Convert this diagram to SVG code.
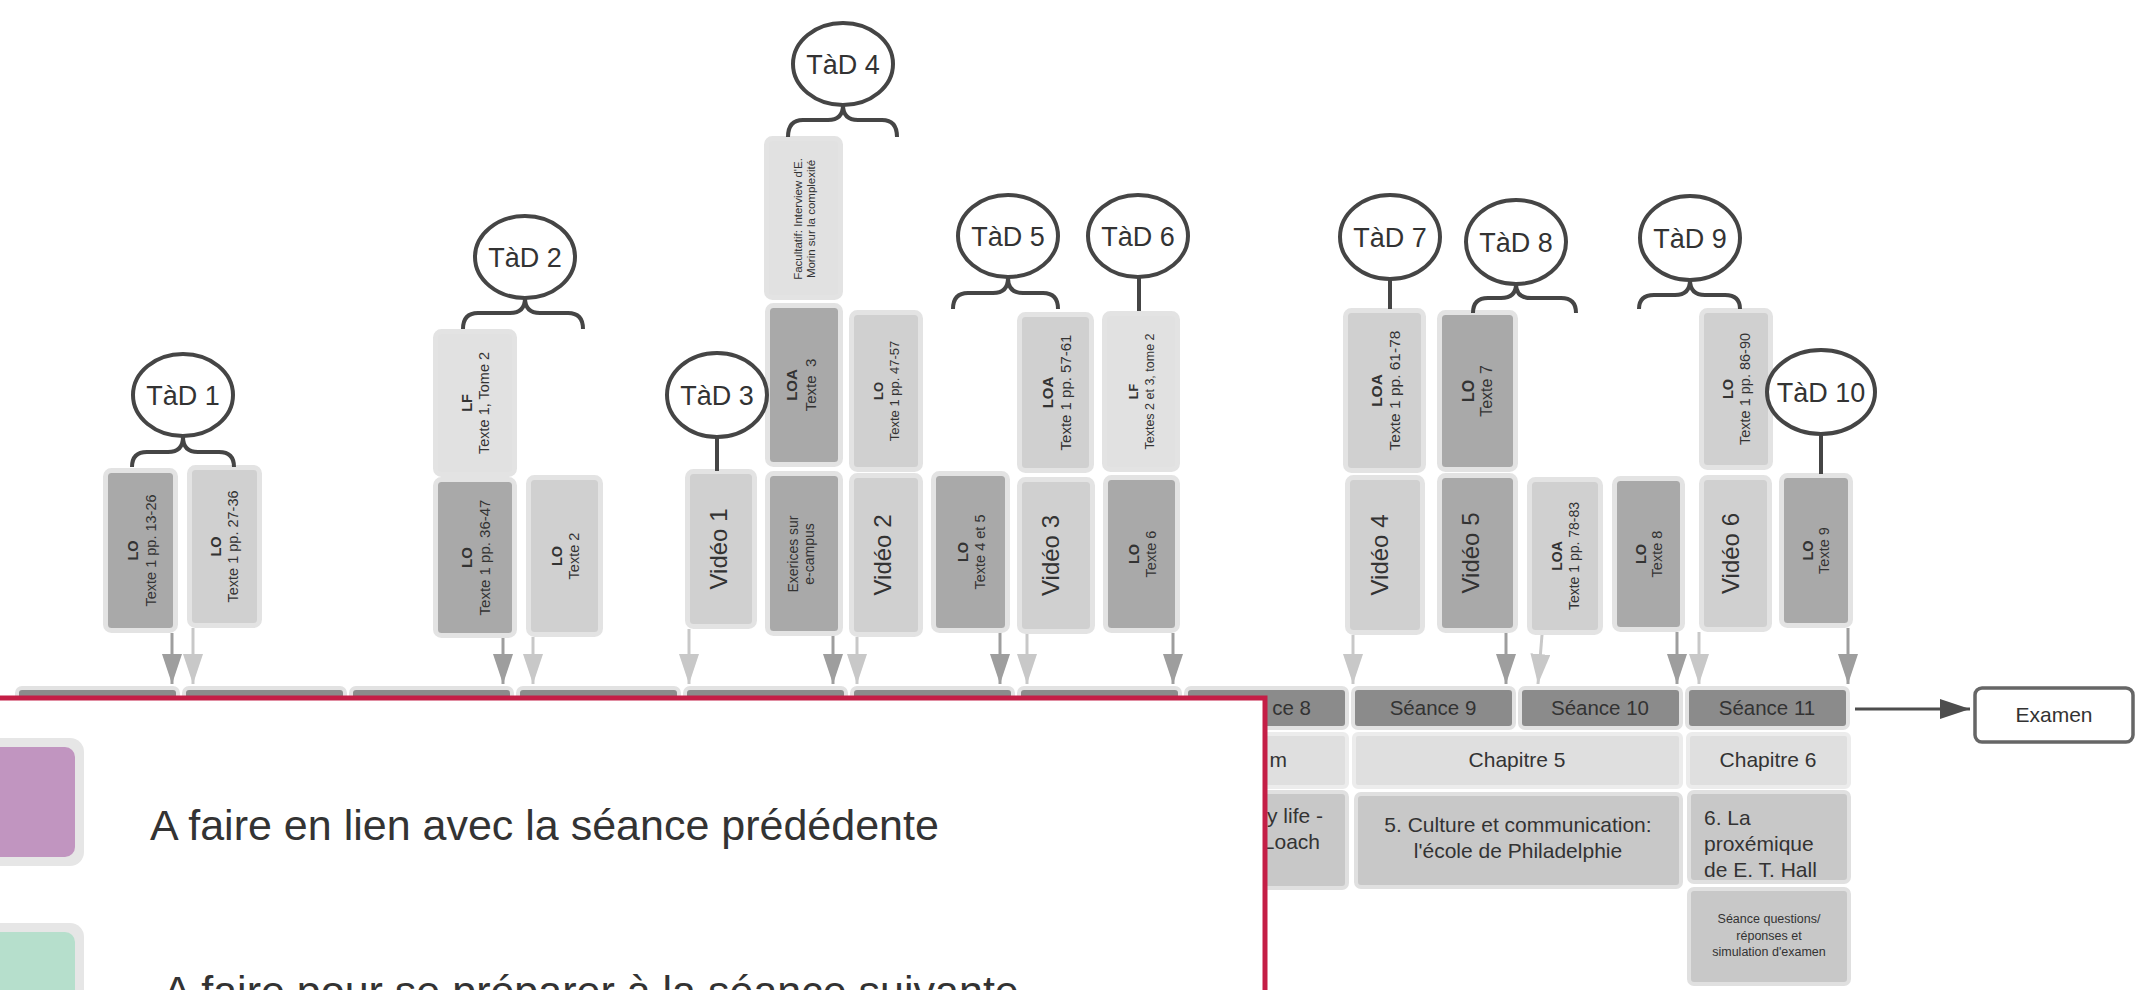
<svg xmlns="http://www.w3.org/2000/svg" width="2147" height="990" viewBox="0 0 2147 990">
<defs>
<style>
.t{font-family:"Liberation Sans",Arial,sans-serif;fill:#333}
.b{font-weight:bold}
.bx{stroke:#e3e3e3;stroke-width:5}
.dk{fill:#a9a9a9}
.lt{fill:#d0d0d0}
.vl{fill:#e1e1e1}
.tad{fill:#fff;stroke:#454545;stroke-width:4}
.br{fill:none;stroke:#454545;stroke-width:4}
.ad{stroke:#9e9e9e;stroke-width:3;fill:none}
.al{stroke:#c8c8c8;stroke-width:3;fill:none}
.sc{fill:#8b8b8b;stroke:#e2e2e2;stroke-width:4}
.ch{fill:#dfdfdf;stroke:#ececec;stroke-width:4}
.de{fill:#c8c8c8;stroke:#e0e0e0;stroke-width:4}
</style>
<marker id="mDk" markerUnits="userSpaceOnUse" viewBox="0 0 30 20" refX="30" refY="10" markerWidth="30" markerHeight="20" orient="auto"><path d="M0,0L30,10L0,20z" fill="#9e9e9e"/></marker>
<marker id="mLt" markerUnits="userSpaceOnUse" viewBox="0 0 30 20" refX="30" refY="10" markerWidth="30" markerHeight="20" orient="auto"><path d="M0,0L30,10L0,20z" fill="#c8c8c8"/></marker>
<marker id="mEx" markerUnits="userSpaceOnUse" viewBox="0 0 30 20" refX="30" refY="10" markerWidth="30" markerHeight="20" orient="auto"><path d="M0,0L30,10L0,20z" fill="#4d4d4d"/></marker>
</defs>
<rect width="2147" height="990" fill="#fff"/>

<!-- Séance row -->
<g id="seances">
<rect class="sc" x="17" y="688" width="161" height="40" rx="5"/>
<rect class="sc" x="184" y="688" width="161" height="40" rx="5"/>
<rect class="sc" x="351" y="688" width="161" height="40" rx="5"/>
<rect class="sc" x="518" y="688" width="161" height="40" rx="5"/>
<rect class="sc" x="685" y="688" width="161" height="40" rx="5"/>
<rect class="sc" x="852" y="688" width="161" height="40" rx="5"/>
<rect class="sc" x="1019" y="688" width="161" height="40" rx="5"/>
<rect class="sc" x="1186" y="688" width="161" height="40" rx="5"/>
<text class="t" x="1311" y="715" font-size="20.5" text-anchor="end">ce 8</text>
<rect class="sc" x="1353" y="688" width="161" height="40" rx="5"/>
<text class="t" x="1433" y="715" font-size="20.5" text-anchor="middle">Séance 9</text>
<rect class="sc" x="1520" y="688" width="161" height="40" rx="5"/>
<text class="t" x="1600" y="715" font-size="20.5" text-anchor="middle">Séance 10</text>
<rect class="sc" x="1687" y="688" width="161" height="40" rx="5"/>
<text class="t" x="1767" y="715" font-size="20.5" text-anchor="middle">Séance 11</text>
</g>

<g id="chapitres">
<rect class="ch" x="1186" y="734" width="161" height="53" rx="4"/>
<text class="t" x="1287" y="767" font-size="21" text-anchor="end">m</text>
<rect class="ch" x="1354" y="734" width="327" height="53" rx="4"/>
<text class="t" x="1517" y="767" font-size="21" text-anchor="middle">Chapitre 5</text>
<rect class="ch" x="1688" y="734" width="161" height="53" rx="4"/>
<text class="t" x="1768" y="767" font-size="21" text-anchor="middle">Chapitre 6</text>
</g>

<g id="descriptions">
<rect class="de" x="1186" y="792" width="161" height="96" rx="5"/>
<text class="t" x="1323" y="823" font-size="21" text-anchor="end">y life -</text>
<text class="t" x="1320" y="849" font-size="21" text-anchor="end">Loach</text>
<rect class="de" x="1356" y="794" width="325" height="93" rx="5"/>
<text class="t" x="1518" y="832" font-size="21" text-anchor="middle">5. Culture et communication:</text>
<text class="t" x="1518" y="858" font-size="21" text-anchor="middle">l'école de Philadelphie</text>
<rect class="de" x="1689" y="792" width="160" height="90" rx="5"/>
<text class="t" x="1704" y="825" font-size="21">6. La</text>
<text class="t" x="1704" y="851" font-size="21">proxémique</text>
<text class="t" x="1704" y="877" font-size="21">de E. T. Hall</text>
<rect class="de" x="1689" y="889" width="160" height="95" rx="5"/>
<text class="t" x="1769" y="923" font-size="12.5" text-anchor="middle">Séance questions/</text>
<text class="t" x="1769" y="940" font-size="12.5" text-anchor="middle">réponses et</text>
<text class="t" x="1769" y="956" font-size="12.5" text-anchor="middle">simulation d'examen</text>
</g>

<g id="examen">
<rect x="1975" y="688" width="158" height="54" rx="7" fill="#fff" stroke="#666" stroke-width="3.5"/>
<text class="t" x="2054" y="722" font-size="21" text-anchor="middle">Examen</text>
</g>

<!-- Resource boxes -->
<g id="n1"><rect class="bx dk" x="105.5" y="470.5" width="70" height="160" rx="6"/>
<text class="t" font-size="14.5" text-anchor="middle" transform="translate(140.5,550.5) rotate(-90)"><tspan class="b" x="0" y="-3">LO</tspan><tspan x="0" y="15">Texte 1 pp. 13-26</tspan></text></g>
<g id="n2"><rect class="bx lt" x="189.5" y="467.5" width="70" height="158" rx="6"/>
<text class="t" font-size="14.5" text-anchor="middle" transform="translate(224.5,546.5) rotate(-90)"><tspan class="b" x="0" y="-4">LO</tspan><tspan x="0" y="13">Texte 1 pp. 27-36</tspan></text></g>
<g id="n3"><rect class="bx vl" x="435.5" y="331.5" width="79" height="143" rx="6"/>
<text class="t" font-size="14.5" text-anchor="middle" transform="translate(475,403) rotate(-90)"><tspan class="b" x="0" y="-3">LF</tspan><tspan x="0" y="14">Texte 1, Tome 2</tspan></text></g>
<g id="n4"><rect class="bx dk" x="435.5" y="479.5" width="79" height="156" rx="6"/>
<text class="t" font-size="15" text-anchor="middle" transform="translate(475,557.5) rotate(-90)"><tspan class="b" x="0" y="-3">LO</tspan><tspan x="0" y="15">Texte 1 pp. 36-47</tspan></text></g>
<g id="n5"><rect class="bx lt" x="528.5" y="477.5" width="72" height="157" rx="6"/>
<text class="t" font-size="14.5" text-anchor="middle" transform="translate(564.5,556) rotate(-90)"><tspan class="b" x="0" y="-3">LO</tspan><tspan x="0" y="14">Texte 2</tspan></text></g>
<g id="n6"><rect class="bx lt" x="687.5" y="471.5" width="67" height="155" rx="6"/>
<text class="t" font-size="24" text-anchor="middle" transform="translate(721,549) rotate(-90)" x="0" y="6">Vidéo 1</text></g>
<g id="n7"><rect class="bx vl" x="766.5" y="138.5" width="74" height="159" rx="6"/>
<text class="t" font-size="11.5" text-anchor="middle" transform="translate(803.5,219) rotate(-90)"><tspan x="0" y="-2">Facultatif: Interview d'E.</tspan><tspan x="0" y="11">Morin sur la complexité</tspan></text></g>
<g id="n8"><rect class="bx dk" x="767.5" y="305.5" width="73" height="159" rx="6"/>
<text class="t" font-size="15" text-anchor="middle" transform="translate(804,385) rotate(-90)"><tspan class="b" x="0" y="-7">LOA</tspan><tspan x="0" y="12" xml:space="preserve">Texte  3</tspan></text></g>
<g id="n9"><rect class="bx dk" x="767.5" y="473.5" width="73" height="160" rx="6"/>
<text class="t" font-size="14" text-anchor="middle" transform="translate(804,554) rotate(-90)"><tspan x="0" y="-6">Exerices sur</tspan><tspan x="0" y="10">e-campus</tspan></text></g>
<g id="n10"><rect class="bx lt" x="851.5" y="312.5" width="69" height="157" rx="6"/>
<text class="t" font-size="13" text-anchor="middle" transform="translate(886,391) rotate(-90)"><tspan class="b" x="0" y="-3">LO</tspan><tspan x="0" y="13">Texte 1 pp. 47-57</tspan></text></g>
<g id="n11"><rect class="bx lt" x="851.5" y="475.5" width="69" height="159" rx="6"/>
<text class="t" font-size="24" text-anchor="middle" transform="translate(886,555) rotate(-90)" x="0" y="5">Vidéo 2</text></g>
<g id="n12"><rect class="bx dk" x="933.5" y="473.5" width="74" height="157" rx="6"/>
<text class="t" font-size="14.5" text-anchor="middle" transform="translate(970.5,552) rotate(-90)"><tspan class="b" x="0" y="-3">LO</tspan><tspan x="0" y="14">Texte 4 et 5</tspan></text></g>
<g id="n13"><rect class="bx lt" x="1019.5" y="314.5" width="72" height="156" rx="6"/>
<text class="t" font-size="15" text-anchor="middle" transform="translate(1055.5,392.5) rotate(-90)"><tspan class="b" x="0" y="-3">LOA</tspan><tspan x="0" y="15">Texte 1 pp. 57-61</tspan></text></g>
<g id="n14"><rect class="bx lt" x="1019.5" y="479.5" width="73" height="152" rx="6"/>
<text class="t" font-size="24" text-anchor="middle" transform="translate(1056,555.5) rotate(-90)" x="0" y="3">Vidéo 3</text></g>
<g id="n15"><rect class="bx vl" x="1104.5" y="313.5" width="73" height="156" rx="6"/>
<text class="t" font-size="12.5" text-anchor="middle" transform="translate(1141,391.5) rotate(-90)"><tspan class="b" x="0" y="-3">LF</tspan><tspan x="0" y="13">Textes 2 et 3, tome 2</tspan></text></g>
<g id="n16"><rect class="bx dk" x="1105.5" y="477.5" width="72" height="153" rx="6"/>
<text class="t" font-size="14.5" text-anchor="middle" transform="translate(1141.5,554) rotate(-90)"><tspan class="b" x="0" y="-3">LO</tspan><tspan x="0" y="14">Texte 6</tspan></text></g>
<g id="n17"><rect class="bx lt" x="1345.5" y="310.5" width="78" height="160" rx="6"/>
<text class="t" font-size="15.5" text-anchor="middle" transform="translate(1384.5,390.5) rotate(-90)"><tspan class="b" x="0" y="-3">LOA</tspan><tspan x="0" y="15">Texte 1 pp. 61-78</tspan></text></g>
<g id="n18"><rect class="bx lt" x="1347.5" y="477.5" width="75" height="155" rx="6"/>
<text class="t" font-size="24" text-anchor="middle" transform="translate(1385,555) rotate(-90)" x="0" y="3">Vidéo 4</text></g>
<g id="n19"><rect class="bx dk" x="1439.5" y="312.5" width="76" height="157" rx="6"/>
<text class="t" font-size="16" text-anchor="middle" transform="translate(1477.5,391) rotate(-90)"><tspan class="b" x="0" y="-4">LO</tspan><tspan x="0" y="14">Texte 7</tspan></text></g>
<g id="n20"><rect class="bx dk" x="1439.5" y="475.5" width="76" height="155" rx="6"/>
<text class="t" font-size="24" text-anchor="middle" transform="translate(1477.5,553) rotate(-90)" x="0" y="1">Vidéo 5</text></g>
<g id="n21"><rect class="bx lt" x="1529.5" y="479.5" width="71" height="153" rx="6"/>
<text class="t" font-size="14" text-anchor="middle" transform="translate(1565,556) rotate(-90)"><tspan class="b" x="0" y="-3">LOA</tspan><tspan x="0" y="14">Texte 1 pp. 78-83</tspan></text></g>
<g id="n22"><rect class="bx dk" x="1614.5" y="478.5" width="68" height="151" rx="6"/>
<text class="t" font-size="14.5" text-anchor="middle" transform="translate(1648.5,554) rotate(-90)"><tspan class="b" x="0" y="-3">LO</tspan><tspan x="0" y="13">Texte 8</tspan></text></g>
<g id="n23"><rect class="bx lt" x="1701.5" y="310.5" width="69" height="157" rx="6"/>
<text class="t" font-size="14.5" text-anchor="middle" transform="translate(1736,389) rotate(-90)"><tspan class="b" x="0" y="-3">LO</tspan><tspan x="0" y="14">Texte 1 pp. 86-90</tspan></text></g>
<g id="n24"><rect class="bx lt" x="1701.5" y="477.5" width="68" height="152" rx="6"/>
<text class="t" font-size="24" text-anchor="middle" transform="translate(1735.5,553.5) rotate(-90)" x="0" y="3">Vidéo 6</text></g>
<g id="n25"><rect class="bx dk" x="1781.5" y="475.5" width="69" height="150" rx="6"/>
<text class="t" font-size="14.5" text-anchor="middle" transform="translate(1816,550.5) rotate(-90)"><tspan class="b" x="0" y="-3">LO</tspan><tspan x="0" y="13">Texte 9</tspan></text></g>

<!-- TàD nodes -->
<g id="tad1"><ellipse class="tad" cx="183" cy="395" rx="50" ry="41"/><text class="t" x="183" y="404.5" font-size="27" text-anchor="middle">TàD 1</text></g>
<g id="tad2"><ellipse class="tad" cx="525" cy="257" rx="50" ry="41"/><text class="t" x="525" y="266.5" font-size="27" text-anchor="middle">TàD 2</text></g>
<g id="tad3"><ellipse class="tad" cx="717" cy="395" rx="50" ry="42"/><text class="t" x="717" y="404.5" font-size="27" text-anchor="middle">TàD 3</text></g>
<g id="tad4"><ellipse class="tad" cx="843" cy="64" rx="50" ry="41"/><text class="t" x="843" y="73.5" font-size="27" text-anchor="middle">TàD 4</text></g>
<g id="tad5"><ellipse class="tad" cx="1008" cy="236" rx="50" ry="41"/><text class="t" x="1008" y="245.5" font-size="27" text-anchor="middle">TàD 5</text></g>
<g id="tad6"><ellipse class="tad" cx="1138" cy="236" rx="50" ry="41"/><text class="t" x="1138" y="245.5" font-size="27" text-anchor="middle">TàD 6</text></g>
<g id="tad7"><ellipse class="tad" cx="1390" cy="237" rx="50" ry="42"/><text class="t" x="1390" y="246.5" font-size="27" text-anchor="middle">TàD 7</text></g>
<g id="tad8"><ellipse class="tad" cx="1516" cy="242" rx="50" ry="42"/><text class="t" x="1516" y="251.5" font-size="27" text-anchor="middle">TàD 8</text></g>
<g id="tad9"><ellipse class="tad" cx="1690" cy="238" rx="50" ry="42"/><text class="t" x="1690" y="247.5" font-size="27" text-anchor="middle">TàD 9</text></g>
<g id="tad10"><ellipse class="tad" cx="1821" cy="392" rx="54" ry="42"/><text class="t" x="1821" y="401.5" font-size="27" text-anchor="middle">TàD 10</text></g>

<!-- Connectors -->
<g id="connectors">
<path class="br" d="M132,467 Q132,452 147,452 L168,452 Q183,452 183,437 Q183,452 198,452 L219,452 Q234,452 234,467"/>
<path class="br" d="M463,329 Q463,313 478,313 L510,313 Q525,313 525,298 Q525,313 540,313 L568,313 Q583,313 583,329"/>
<path class="br" d="M788,137 Q788,120 803,120 L828,120 Q843,120 843,105 Q843,120 858,120 L882,120 Q897,120 897,137"/>
<path class="br" d="M953,309 Q953,293 968,293 L993,293 Q1008,293 1008,278 Q1008,293 1023,293 L1043,293 Q1058,293 1058,309"/>
<path class="br" d="M1473,313 Q1473,298 1488,298 L1501,298 Q1516,298 1516,284 Q1516,298 1531,298 L1561,298 Q1576,298 1576,313"/>
<path class="br" d="M1639,309 Q1639,295 1654,295 L1675,295 Q1690,295 1690,280 Q1690,295 1705,295 L1725,295 Q1740,295 1740,309"/>
<line class="br" x1="717" y1="437" x2="717" y2="471"/>
<line class="br" x1="1139" y1="277" x2="1139" y2="311"/>
<line class="br" x1="1390" y1="279" x2="1390" y2="309"/>
<line class="br" x1="1821" y1="434" x2="1821" y2="474"/>
<line class="ad" x1="172" y1="633" x2="172" y2="684" marker-end="url(#mDk)"/>
<line class="al" x1="193" y1="628" x2="193" y2="684" marker-end="url(#mLt)"/>
<line class="ad" x1="503" y1="638" x2="503" y2="684" marker-end="url(#mDk)"/>
<line class="al" x1="533" y1="637" x2="533" y2="684" marker-end="url(#mLt)"/>
<line class="al" x1="689" y1="629" x2="689" y2="684" marker-end="url(#mLt)"/>
<line class="ad" x1="833" y1="636" x2="833" y2="684" marker-end="url(#mDk)"/>
<line class="al" x1="857" y1="637" x2="857" y2="684" marker-end="url(#mLt)"/>
<line class="ad" x1="1000" y1="633" x2="1000" y2="684" marker-end="url(#mDk)"/>
<line class="al" x1="1027" y1="634" x2="1027" y2="684" marker-end="url(#mLt)"/>
<line class="ad" x1="1173" y1="633" x2="1173" y2="684" marker-end="url(#mDk)"/>
<line class="al" x1="1353" y1="635" x2="1353" y2="684" marker-end="url(#mLt)"/>
<line class="ad" x1="1506" y1="633" x2="1506" y2="684" marker-end="url(#mDk)"/>
<line class="al" x1="1542" y1="635" x2="1538" y2="684" marker-end="url(#mLt)"/>
<line class="ad" x1="1677" y1="632" x2="1677" y2="684" marker-end="url(#mDk)"/>
<line class="al" x1="1699" y1="632" x2="1699" y2="684" marker-end="url(#mLt)"/>
<line class="ad" x1="1848" y1="628" x2="1848" y2="684" marker-end="url(#mDk)"/>
<line x1="1855" y1="709" x2="1970" y2="709" stroke="#4d4d4d" stroke-width="3" marker-end="url(#mEx)"/>
</g>

<!-- Legend -->
<g id="legend">
<rect x="-10" y="698" width="1275" height="400" fill="#fff" stroke="#c41e46" stroke-width="5"/>
<rect x="-40" y="738" width="124" height="128" rx="14" fill="#e6e6e6"/>
<rect x="-40" y="747" width="115" height="110" rx="10" fill="#c195c0"/>
<text class="t" x="150" y="840" font-size="43">A faire en lien avec la séance prédédente</text>
<rect x="-40" y="923" width="124" height="128" rx="14" fill="#e6e6e6"/>
<rect x="-40" y="932" width="115" height="110" rx="10" fill="#b6dfcc"/>
<text class="t" x="163" y="1006" font-size="43">A faire pour se préparer à la séance suivante</text>
</g>
</svg>
